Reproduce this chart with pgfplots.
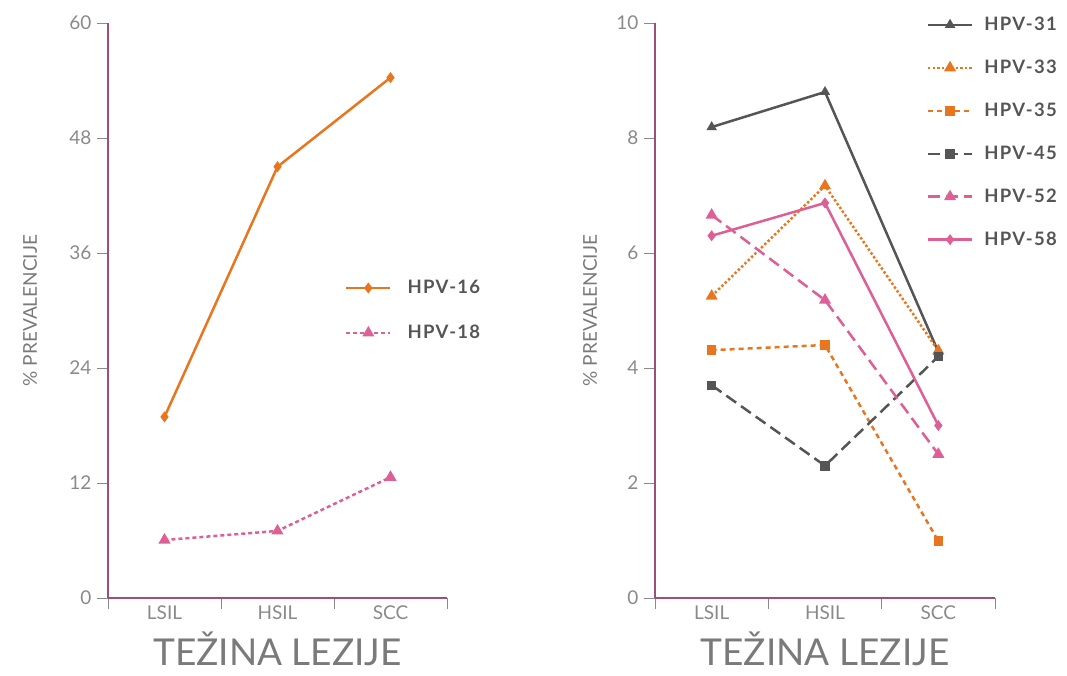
\documentclass[border=0pt]{standalone}
\usepackage{pgfplots}
\pgfplotsset{compat=1.18}
\usepackage{fontspec}
\setmainfont{Lato}
\newfontfamily\legfont[LetterSpace=7]{Lato}
\definecolor{plum}{HTML}{9C4F78}
\definecolor{tickgray}{HTML}{8A8A8A}
\definecolor{labgray}{HTML}{7A7A7A}
\definecolor{orng}{HTML}{E8761E}
\definecolor{pnk}{HTML}{DE5E96}
\definecolor{dgray}{HTML}{555555}
\definecolor{legtext}{HTML}{555555}
\pgfplotsset{
  common/.style={
    scale only axis,
    width=339pt, height=575pt,
    anchor=south west,
    axis x line=bottom, axis y line=left,
    axis line style={draw=plum, line width=1.6pt, -},
    xmin=0, xmax=3,
    xtick={0,1,2,3}, xticklabels={},
    extra x ticks={0.5,1.5,2.5},
    extra x tick labels={LSIL,HSIL,SCC},
    extra x tick style={major tick length=0pt, tick style={draw=none}},
    tick align=outside,
    major tick length=11pt,
    tick style={draw=tickgray, line width=0.8pt},
    ticklabel style={text=tickgray, font=\fontsize{19}{22}\selectfont},
    /pgf/number format/assume math mode=true,
    xticklabel style={yshift=-4pt},
    yticklabel style={xshift=-2pt},
    xlabel={TEŽINA LEZIJE},
    xlabel style={text=labgray, font=\fontsize{37}{40}\selectfont, yshift=5pt},
    ylabel={\% PREVALENCIJE},
    ylabel style={text=labgray, font=\fontsize{19}{22}\selectfont, at={(axis description cs:0,0.5)}, anchor=center},
    clip=false,
    legend cell align=left,
    legend style={draw=none, fill=none, anchor=west,
      font=\legfont\bfseries\fontsize{18.5}{20}\selectfont, text=legtext,
      column sep=14pt},
    legend image code/.code={\draw[mark repeat=2,mark phase=2,#1] plot coordinates {(0pt,0pt) (22pt,0pt) (44pt,0pt)};},
    every axis plot/.append style={line width=2.5pt},
  }
}
\begin{document}
\begin{tikzpicture}[x=1pt,y=1pt]
\useasboundingbox (0,0) rectangle (1067,675);
\begin{axis}[common, at={(108pt,77pt)},
  ymin=0, ymax=60, ytick={0,12,24,36,48,60},
  ylabel style={yshift=78pt},
  legend style={at={(axis description cs:0.69,0.5)}, row sep=26pt}]
\addplot[color=orng, mark=diamond*, mark size=3.5pt, mark options={solid}]
  coordinates {(0.5,18.9) (1.5,45.0) (2.5,54.3)};
\addlegendentry{HPV-16}
\addplot[color=pnk, dash pattern=on 4pt off 3pt, mark=triangle*, mark size=4.5pt, mark options={solid}]
  coordinates {(0.5,6.05) (1.5,7.0) (2.5,12.6)};
\addlegendentry{HPV-18}
\end{axis}
\begin{axis}[common, at={(655pt,77pt)}, width=340pt,
  ymin=0, ymax=10, ytick={0,2,4,6,8,10},
  ylabel style={yshift=65pt},
  legend style={at={(axis description cs:0.79,0.81)}, row sep=24pt, column sep=9pt}]
\addplot[color=dgray, mark=triangle*, mark size=3.5pt, mark options={solid}]
  coordinates {(0.5,8.19) (1.5,8.8) (2.5,4.28)};
\addlegendentry{HPV-31}
\addplot[color=orng, dash pattern=on 2.4pt off 2.2pt, mark=triangle*, mark size=4.5pt, mark options={solid}]
  coordinates {(0.5,5.25) (1.5,7.17) (2.5,4.3)};
\addlegendentry{HPV-33}
\addplot[color=orng, dash pattern=on 5pt off 4pt, mark=square*, mark size=3.5pt, mark options={solid}]
  coordinates {(0.5,4.31) (1.5,4.4) (2.5,0.99)};
\addlegendentry{HPV-35}
\addplot[color=dgray, dash pattern=on 12pt off 6pt, mark=square*, mark size=3.5pt, mark options={solid}]
  coordinates {(0.5,3.7) (1.5,2.3) (2.5,4.2)};
\addlegendentry{HPV-45}
\addplot[color=pnk, dash pattern=on 12pt off 6pt, mark=triangle*, mark size=4.5pt, mark options={solid}]
  coordinates {(0.5,6.66) (1.5,5.18) (2.5,2.5)};
\addlegendentry{HPV-52}
\addplot[color=pnk, mark=diamond*, mark size=3.5pt, mark options={solid}]
  coordinates {(0.5,6.3) (1.5,6.87) (2.5,3.0)};
\addlegendentry{HPV-58}
\end{axis}
\end{tikzpicture}
\end{document}
